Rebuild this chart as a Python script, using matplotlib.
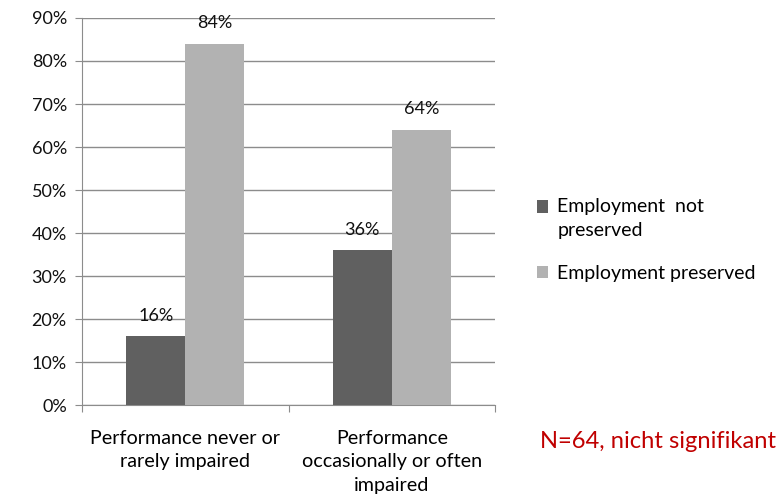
import matplotlib.pyplot as plt
import matplotlib.patches as mpatches
from matplotlib.legend_handler import HandlerPatch
import numpy as np

plt.rcParams['font.family'] = ['Lato', 'DejaVu Sans']

categories = ["Performance never or\nrarely impaired",
              "Performance\noccasionally or often\nimpaired"]
not_preserved = [16, 36]
preserved = [84, 64]
series_labels = ["Employment  not\npreserved", "Employment preserved"]
yticks = list(range(0, 100, 10))

fig = plt.figure(figsize=(7.82, 4.94), dpi=100)
ax = fig.add_axes([0.1049, 0.180, 0.5281, 0.7836])

x = np.arange(len(categories))
w = 0.286
b1 = ax.bar(x - w / 2, not_preserved, w, color='#606060', label=series_labels[0], zorder=3)
b2 = ax.bar(x + w / 2, preserved, w, color='#B2B2B2', label=series_labels[1], zorder=3)

for bars, vals in ((b1, not_preserved), (b2, preserved)):
    for bar, v in zip(bars, vals):
        ax.annotate(f"{v}%", (bar.get_x() + bar.get_width() / 2, v),
                    xytext=(0, 9), textcoords='offset points',
                    ha='center', va='bottom', fontsize=13, color='#111111')

ax.set_ylim(0, 90)
ax.set_xlim(-0.5, 1.5)
ax.set_yticks(yticks)
ax.set_yticklabels([f"{t}%" for t in yticks], fontsize=13)
ax.yaxis.grid(True, color='#8c8c8c', linewidth=1)
ax.set_axisbelow(True)

# category ticks sit on the group boundaries
ax.set_xticks([-0.5, 0.5, 1.5])
ax.set_xticklabels([])
ax.set_xticks(x, minor=True)
ax.set_xticklabels(categories, minor=True, fontsize=14.2, linespacing=1.45)
ax.tick_params(axis='x', which='minor', length=0, pad=18)
ax.tick_params(axis='x', which='major', length=5, color='#8c8c8c')
ax.tick_params(axis='y', length=5, color='#8c8c8c', pad=6, labelcolor='#111111')

for s in ('top', 'right'):
    ax.spines[s].set_visible(False)
for s in ('left', 'bottom'):
    ax.spines[s].set_color('#8c8c8c')


def top_line_square(legend, orig_handle, xdescent, ydescent, width, height, fontsize):
    # put the key next to the first line of a two-line label
    return mpatches.Rectangle((-xdescent, -ydescent + 8.6), width, height)


h1, h2 = b1.patches[0], b2.patches[0]
leg = fig.legend(handles=[h1, h2], labels=series_labels, loc='upper left',
                 bbox_to_anchor=(0.664, 0.634), frameon=False, fontsize=14,
                 handlelength=0.6, handleheight=0.6, handletextpad=0.45,
                 labelspacing=1.35,
                 handler_map={h1: HandlerPatch(patch_func=top_line_square)})
for t in leg.get_texts():
    t.set_linespacing(1.45)
    t.set_multialignment('left')

fig.text(0.69, 0.093, "N=64, nicht signifikant", color='#C00000', fontsize=17.1)

fig.savefig("out.png", dpi=100)
